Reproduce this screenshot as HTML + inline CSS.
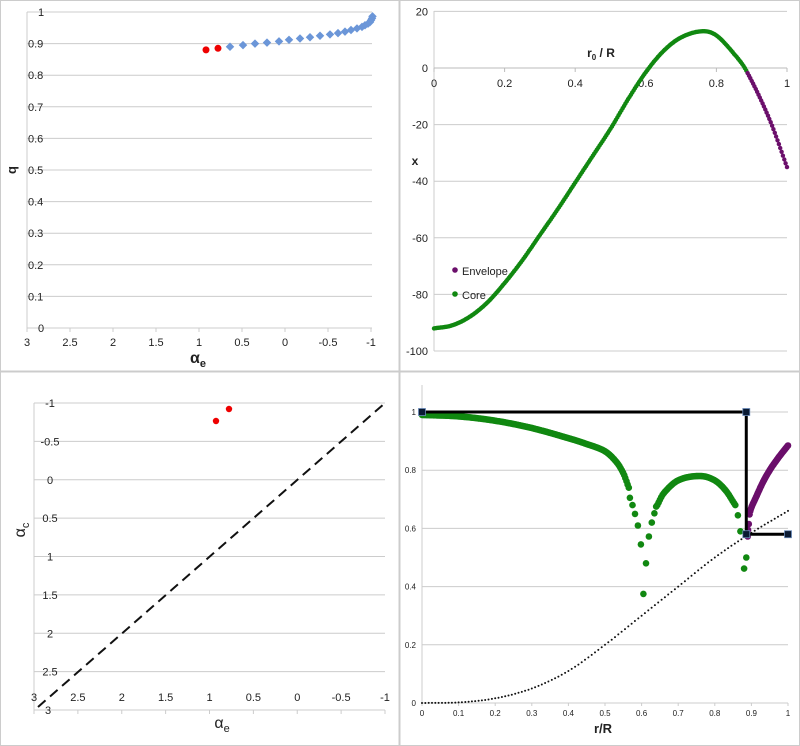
<!DOCTYPE html>
<html><head><meta charset="utf-8"><style>
html,body{margin:0;padding:0;background:#fff}
svg{display:block;font-family:"Liberation Sans",sans-serif}
</style></head><body>
<svg id="s" width="800" height="746" viewBox="0 0 800 746" xmlns="http://www.w3.org/2000/svg">
<rect x="0.5" y="0.5" width="799" height="745" fill="#fff" stroke="#ccc"/>
<line x1="399.5" y1="0" x2="399.5" y2="746" stroke="#ccc" stroke-width="2"/>
<line x1="0" y1="371.5" x2="800" y2="371.5" stroke="#ccc" stroke-width="2"/>
<g id="g"></g>
</svg>
<script>
var g=document.getElementById('g'),h='';
function L(x1,y1,x2,y2,c,w,d){h+='<line x1="'+x1+'" y1="'+y1+'" x2="'+x2+'" y2="'+y2+'" stroke="'+c+'" stroke-width="'+(w||1)+'"'+(d?' stroke-dasharray="'+d+'"':'')+'/>';}
function T(x,y,t,s,a,extra){h+='<text x="'+x+'" y="'+y+'" font-size="'+s+'" text-anchor="'+(a||'middle')+'" fill="#222" '+(extra||'')+'>'+t+'</text>';}
function C(x,y,r,c){h+='<circle cx="'+x.toFixed(1)+'" cy="'+y.toFixed(1)+'" r="'+r+'" fill="'+c+'"/>';}
function interp(P,x){for(var i=0;i<P.length-1;i++){if(x<=P[i+1][0]){var p0=P[Math.max(i-1,0)],p1=P[i],p2=P[i+1],p3=P[Math.min(i+2,P.length-1)];var t=(x-p1[0])/(p2[0]-p1[0]);var m1=(p2[1]-p0[1])/(p2[0]-p0[0])*(p2[0]-p1[0]),m2=(p3[1]-p1[1])/(p3[0]-p1[0])*(p2[0]-p1[0]);var t2=t*t,t3=t2*t;return (2*t3-3*t2+1)*p1[1]+(t3-2*t2+t)*m1+(-2*t3+3*t2)*p2[1]+(t3-t2)*m2;}}return P[P.length-1][1];}
// ---- Top-left
var X1=function(a){return 27+(3-a)*86},Y1=function(q){return 328-q*316};
for(var i=0;i<=10;i++){var y=Y1(i/10);L(27,y,372,y,'#ccc');T(i==0||i==10?38:28,y+4,(i==0?'0':i==10?'1':(i/10).toFixed(1)),11,'start');}
L(27,12,27,330,'#ccc');
for(var i=0;i<=8;i++){var a=3-i*0.5,x=X1(a);L(x,328,x,332,'#ccc');T(x,346,a==0?'0':String(a),11);}
T(198,363,'α<tspan font-size="11" dy="4">e</tspan>',16,'middle','font-weight="bold"');
T(16,170,'q',13,'middle','font-weight="bold" transform="rotate(-90 16 170)"');
C(206,Y1(0.880),3.5,'#e00');C(218,Y1(0.885),3.5,'#e00');
var bx=[230,243,255,267,279,289,300,310,320,330,338,345,351,357,362,365,368,370,371,372,372.5];
var bq=[0.890,0.895,0.900,0.903,0.907,0.912,0.916,0.920,0.925,0.929,0.933,0.938,0.943,0.948,0.953,0.958,0.963,0.968,0.974,0.980,0.986];
for(var i=0;i<bx.length;i++){var x=bx[i],y=Y1(bq[i]);h+='<rect x="'+(x-3)+'" y="'+(y-3)+'" width="6" height="6" fill="#6b96d8" transform="rotate(45 '+x+' '+y+')"/>';}
// ---- Top-right
var X2=function(r){return 434+r*353},Y2=function(v){return 68-v*2.83};
for(var i=0;i<=6;i++){var v=20-i*20,y=Y2(v);if(v!=0)L(434,y,787,y,'#ccc');T(428,y+4,String(v),11,'end');}
L(434,11,434,351,'#ccc');L(434,68,787,68,'#bbb');
for(var i=0;i<=5;i++){var x=X2(i*0.2);L(x,68,x,72,'#bbb');T(x,87,i==0?'0':i==5?'1':(i*0.2).toFixed(1),11);}
T(601,57,'r<tspan font-size="8" dy="3">0</tspan><tspan dy="-3"> / R</tspan>',12,'middle','font-weight="bold"');
T(415,165,'x',12,'middle','font-weight="bold"');
var PX=[[0,-92],[0.05,-91],[0.1,-88],[0.15,-83],[0.2,-76],[0.25,-68],[0.3,-59],[0.35,-50],[0.4,-40.5],[0.45,-31],[0.5,-21.5],[0.55,-11],[0.6,-1.5],[0.65,6],[0.7,10.8],[0.76,13],[0.8,11.5],[0.85,5],[0.885,-1],[0.95,-18],[1,-35]];
for(var k=0;k<=260;k++){var r=k/260;C(X2(r),Y2(interp(PX,r)),2.2,r<0.885?'#118811':'#6b0f6b');}
C(455,270,2.8,'#6b0f6b');T(462,275,'Envelope',11,'start');
C(455,294,2.8,'#118811');T(462,299,'Core',11,'start');
// ---- Bottom-left
var X3=function(a){return 34+(3-a)*87.75},Y3=function(a){return 403+(a+1)*76.75};
for(var i=0;i<8;i++){var v=-1+i*0.5,y=Y3(v);L(34,y,385,y,'#ccc');T(50,y+4,v==0?'0':String(v),11,'middle');}
L(34,403,34,710,'#ccc');L(34,710,385,710,'#ccc');T(48,714,'3',11);
for(var i=0;i<=8;i++){var a=3-i*0.5,x=X3(a);L(x,710,x,714,'#ccc');T(x,701,a==0?'0':String(a),11);}
L(38,707,385,403,'#111',2,'10,6');
C(216,421,3.2,'#e00');C(229,409,3.2,'#e00');
T(222,728,'α<tspan font-size="11" dy="4">e</tspan>',16,'middle');
T(25,530,'α<tspan font-size="11" dy="4">c</tspan>',16,'middle','transform="rotate(-90 25 530)"');
// ---- Bottom-right
var X4=function(r){return 422+r*366},Y4=function(v){return 703-v*291};
for(var i=0;i<=5;i++){var v=i*0.2,y=Y4(v);if(i>0)L(422,y,788,y,'#ccc');T(416,y+3,i==0?'0':i==5?'1':v.toFixed(1),8,'end');}
L(422,385,422,703,'#ccc');L(422,703,788,703,'#ccc');
for(var i=0;i<=10;i++){var x=X4(i/10);L(x,703,x,706,'#ccc');T(x,716,i==0?'0':i==10?'1':(i/10).toFixed(1),8);}
T(603,733,'r/R',13,'middle','font-weight="bold"');
var PD=[[0,0],[0.1,0.002],[0.2,0.016],[0.3,0.05],[0.4,0.11],[0.5,0.2],[0.6,0.3],[0.7,0.4],[0.8,0.5],[0.9,0.585],[1,0.66]];
for(var k=0;k<=110;k++){var r=k/110;C(X4(r),Y4(interp(PD,r)),1,'#111');}
var PG=[[0,0.99],[0.1,0.985],[0.2,0.97],[0.3,0.945],[0.4,0.91],[0.45,0.89],[0.5,0.865],[0.53,0.83],[0.55,0.79],[0.565,0.74]];
for(var k=0;k<=180;k++){var r=k*0.565/180;C(X4(r),Y4(interp(PG,r)),3.3,'#118811');}
var PA=[[0.643,0.68],[0.66,0.72],[0.7,0.765],[0.76,0.78],[0.8,0.765],[0.83,0.73],[0.856,0.68]];
for(var k=0;k<=60;k++){var r=0.643+k*(0.856-0.643)/60;C(X4(r),Y4(interp(PA,r)),3.3,'#118811');}
[[0.568,0.705],[0.575,0.68],[0.582,0.65],[0.59,0.61],[0.598,0.545],[0.612,0.48],[0.605,0.375],[0.62,0.572],[0.628,0.62],[0.635,0.652],[0.64,0.675],[0.863,0.645],[0.87,0.59],[0.886,0.5],[0.88,0.462]].forEach(function(p){C(X4(p[0]),Y4(p[1]),3.3,'#118811');});
var PP=[[0.89,0.575],[0.892,0.615],[0.895,0.648],[0.9,0.672],[0.91,0.7],[0.93,0.755],[0.95,0.8],[0.975,0.845],[1,0.885]];
[[0.89,0.572],[0.891,0.595],[0.893,0.615],[0.895,0.648]].forEach(function(p){C(X4(p[0]),Y4(p[1]),3.3,'#6b0f6b');});
for(var k=0;k<=70;k++){var r=0.897+k*0.103/70;C(X4(r),Y4(interp(PP,r)),3.3,'#6b0f6b');}
var xs=X4(0.886);
L(422,412,xs,412,'#000',3);L(xs,412,xs,Y4(0.58),'#000',3);L(xs,Y4(0.58),788,Y4(0.58),'#000',3);
[[422,412],[xs,412],[xs,Y4(0.58)],[788,Y4(0.58)]].forEach(function(p){h+='<rect x="'+(p[0]-3.5)+'" y="'+(p[1]-3.5)+'" width="7" height="7" fill="#0a1a33" stroke="#6a8ab8" stroke-width="0.8"/>';});
g.innerHTML=h;
</script>
</body></html>
